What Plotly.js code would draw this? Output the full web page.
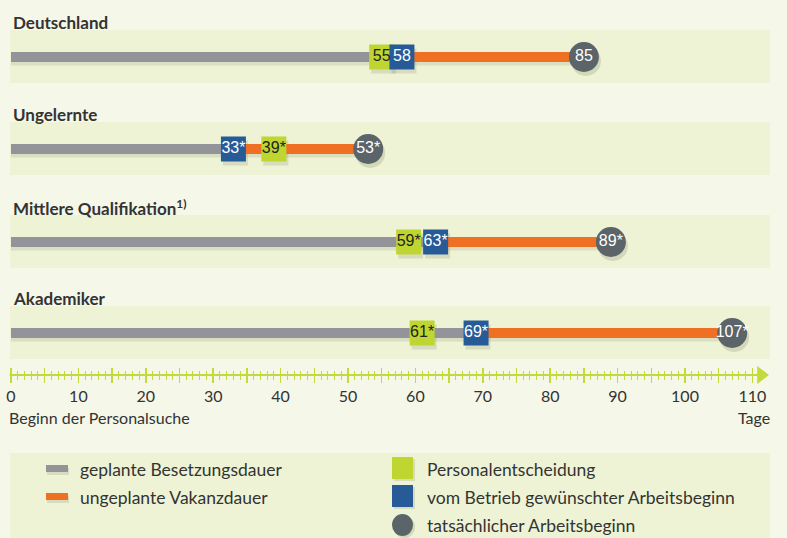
<!DOCTYPE html>
<html><head><meta charset="utf-8">
<script src="https://cdn.plot.ly/plotly-3.0.1.min.js"></script>
<style>html,body{margin:0;padding:0;background:#f5f7e9;}#chart{width:787px;height:538px;}</style>
</head><body><div id="chart"></div>
<script>
// ---- data ----
const categories = ['Deutschland', 'Ungelernte', 'Mittlere Qualifikation<sup>1)</sup>', 'Akademiker'];
const decision = [55, 39, 59, 61];          // Personalentscheidung
const desiredStart = [58, 33, 63, 69];      // vom Betrieb gewünschter Arbeitsbeginn
const actualStart = [85, 53, 89, 107];      // tatsächlicher Arbeitsbeginn
const decisionLabels = ['55', '39*', '59*', '61*'];
const desiredLabels = ['58', '33*', '63*', '69*'];
const actualLabels = ['85', '53*', '89*', '107*'];
const labelledTicks = [0, 10, 20, 30, 40, 50, 60, 70, 80, 90, 100, 110];
const tickLabels = ['0', '10', '20', '30', '40', '50', '60', '70', '80', '90', '100', '110'];
const halfTicks = [5, 15, 25, 35, 45, 55, 65, 75, 85, 95, 105];
const legendLabels = ['geplante Besetzungsdauer', 'ungeplante Vakanzdauer', 'Personalentscheidung', 'vom Betrieb gewünschter Arbeitsbeginn', 'tatsächlicher Arbeitsbeginn'];
const axisStartLabel = 'Beginn der Personalsuche';
const axisUnitLabel = 'Tage';

// ---- layout constants ----
const W = 787, H = 538;
const PX0 = 11, PXPU = 6.74;              // pixel of value 0, pixels per day
const ROW_Y = [57, 149, 242, 333];        // row centre (pixels from top)
const AXIS_Y = 375;
const C = {gray:'#939499', orange:'#f07023', green:'#bed62f', blue:'#275b97', circle:'#5b6469',
           band:'#eef3d5', bg:'#f5f7e9', lime:'#c3da3a', text:'#333333'};
const FONT = 'Lato, "Open Sans", sans-serif';
const NUMFONT = '"Liberation Sans", Arial, sans-serif';

const xr = [-PX0 / PXPU, (W - PX0) / PXPU];
const toPaperX = px => px / W;
const axisPos = (H - AXIS_Y) / H;

const traces = [];
const shapes = [];
const annotations = [];

// bands + headings
ROW_Y.forEach((y, i) => {
  shapes.push({type:'rect', xref:'paper', yref:'y', x0:toPaperX(10), x1:toPaperX(770), y0:y-27, y1:y+26,
               fillcolor:C.band, line:{width:0}, layer:'below'});
  annotations.push({xref:'paper', yref:'y', x:toPaperX(11), y:y-35, xanchor:'left', yanchor:'middle',
                    text:'<b>'+categories[i]+'</b>', showarrow:false, font:{family:FONT, size:17, color:C.text}});
});

// shadows
const shY = 4, shX = 2 / PXPU;
categories.forEach((c, i) => {
  traces.push({x:[0, actualStart[i]], y:[ROW_Y[i]+shY, ROW_Y[i]+shY], mode:'lines', xaxis:'x', yaxis:'y',
               line:{color:'rgba(90,95,60,0.13)', width:9}, hoverinfo:'skip', showlegend:false});
});
traces.push({x:decision.concat(desiredStart).map(v=>v+shX), y:ROW_Y.concat(ROW_Y).map(y=>y+shY), mode:'markers',
             marker:{symbol:'square', size:25, color:'rgba(90,95,60,0.15)'}, hoverinfo:'skip', showlegend:false});
traces.push({x:actualStart.map(v=>v+shX), y:ROW_Y.map(y=>y+shY), mode:'markers',
             marker:{symbol:'circle', size:30, color:'rgba(90,95,60,0.18)'}, hoverinfo:'skip', showlegend:false});

// gray (planned) and orange (unplanned) segments
categories.forEach((c, i) => {
  traces.push({x:[0, desiredStart[i]], y:[ROW_Y[i], ROW_Y[i]], mode:'lines',
               line:{color:C.gray, width:10}, hoverinfo:'skip', showlegend:false});
  traces.push({x:[desiredStart[i], actualStart[i]], y:[ROW_Y[i], ROW_Y[i]], mode:'lines',
               line:{color:C.orange, width:10}, hoverinfo:'skip', showlegend:false});
});

// markers
traces.push({x:decision, y:ROW_Y, mode:'markers', marker:{symbol:'square', size:25, color:C.green}, hoverinfo:'skip', showlegend:false});
traces.push({x:desiredStart, y:ROW_Y, mode:'markers', marker:{symbol:'square', size:25, color:C.blue}, hoverinfo:'skip', showlegend:false});
traces.push({x:actualStart, y:ROW_Y, mode:'markers', marker:{symbol:'circle', size:30, color:C.circle}, hoverinfo:'skip', showlegend:false});
// labels
traces.push({x:decision, y:ROW_Y, mode:'text', text:decisionLabels, textposition:'middle center',
             textfont:{family:NUMFONT, size:16, color:'#222222'}, hoverinfo:'skip', showlegend:false, cliponaxis:false});
traces.push({x:desiredStart, y:ROW_Y, mode:'text', text:desiredLabels, textposition:'middle center',
             textfont:{family:NUMFONT, size:16, color:'#ffffff'}, hoverinfo:'skip', showlegend:false, cliponaxis:false});
traces.push({x:actualStart, y:ROW_Y, mode:'text', text:actualLabels, textposition:'middle center',
             textfont:{family:NUMFONT, size:16, color:'#ffffff'}, hoverinfo:'skip', showlegend:false, cliponaxis:false});

// axis line + arrow head
const lastTick = labelledTicks[labelledTicks.length - 1];
traces.push({x:[-0.2, lastTick + 1.5], y:[AXIS_Y, AXIS_Y], mode:'lines', xaxis:'x2', yaxis:'y',
             line:{color:C.lime, width:2}, hoverinfo:'skip', showlegend:false});
traces.push({x:[lastTick + 1.3], y:[AXIS_Y], mode:'markers', xaxis:'x3', yaxis:'y',
             marker:{symbol:'triangle-right', size:15, color:C.lime}, hoverinfo:'skip', showlegend:false, cliponaxis:false});
traces.push({x:[lastTick + 1.3], y:[AXIS_Y], mode:'markers', xaxis:'x4', yaxis:'y',
             marker:{symbol:'triangle-right', size:15, color:C.lime}, hoverinfo:'skip', showlegend:false, cliponaxis:false});

// axis labels
annotations.push({xref:'paper', yref:'y', x:toPaperX(7), y:417, xanchor:'left', yanchor:'middle', text:axisStartLabel,
                  showarrow:false, font:{family:FONT, size:16, color:C.text}});
annotations.push({xref:'paper', yref:'y', x:toPaperX(772), y:417, xanchor:'right', yanchor:'middle', text:axisUnitLabel,
                  showarrow:false, font:{family:FONT, size:16, color:C.text}});

// legend (drawn manually)
shapes.push({type:'rect', xref:'paper', yref:'y', x0:toPaperX(10), x1:toPaperX(770), y0:453, y1:540,
             fillcolor:C.band, line:{width:0}, layer:'below'});
const legCol1 = 46, legCol2 = 392;
const legRowY = [469, 497, 525];
shapes.push({type:'rect', xref:'paper', yref:'y', x0:toPaperX(legCol1+1), x1:toPaperX(legCol1+23), y0:legRowY[0]-1, y1:legRowY[0]+6, fillcolor:'rgba(90,95,60,0.15)', line:{width:0}});
shapes.push({type:'rect', xref:'paper', yref:'y', x0:toPaperX(legCol1+1), x1:toPaperX(legCol1+23), y0:legRowY[1]-1, y1:legRowY[1]+6, fillcolor:'rgba(90,95,60,0.15)', line:{width:0}});
shapes.push({type:'rect', xref:'paper', yref:'y', x0:toPaperX(legCol1), x1:toPaperX(legCol1+22), y0:legRowY[0]-4, y1:legRowY[0]+3, fillcolor:C.gray, line:{width:0}});
shapes.push({type:'rect', xref:'paper', yref:'y', x0:toPaperX(legCol1), x1:toPaperX(legCol1+22), y0:legRowY[1]-4, y1:legRowY[1]+3, fillcolor:C.orange, line:{width:0}});
shapes.push({type:'rect', xref:'paper', yref:'y', x0:toPaperX(legCol2+2), x1:toPaperX(legCol2+23), y0:legRowY[0]-10, y1:legRowY[0]+12, fillcolor:'rgba(90,95,60,0.15)', line:{width:0}});
shapes.push({type:'rect', xref:'paper', yref:'y', x0:toPaperX(legCol2+2), x1:toPaperX(legCol2+23), y0:legRowY[1]-10, y1:legRowY[1]+12, fillcolor:'rgba(90,95,60,0.15)', line:{width:0}});
shapes.push({type:'circle', xref:'paper', yref:'y', x0:toPaperX(legCol2+2), x1:toPaperX(legCol2+23), y0:legRowY[2]-9, y1:legRowY[2]+13, fillcolor:'rgba(90,95,60,0.18)', line:{width:0}});
shapes.push({type:'rect', xref:'paper', yref:'y', x0:toPaperX(legCol2), x1:toPaperX(legCol2+21), y0:legRowY[0]-12, y1:legRowY[0]+10, fillcolor:C.green, line:{width:0}});
shapes.push({type:'rect', xref:'paper', yref:'y', x0:toPaperX(legCol2), x1:toPaperX(legCol2+21), y0:legRowY[1]-12, y1:legRowY[1]+10, fillcolor:C.blue, line:{width:0}});
shapes.push({type:'circle', xref:'paper', yref:'y', x0:toPaperX(legCol2), x1:toPaperX(legCol2+21), y0:legRowY[2]-11, y1:legRowY[2]+11, fillcolor:C.circle, line:{width:0}});
const legPos = [[78, legRowY[0]], [78, legRowY[1]], [425, legRowY[0]], [425, legRowY[1]], [425, legRowY[2]]];
legendLabels.forEach((t, i) => {
  annotations.push({xref:'paper', yref:'y', x:toPaperX(legPos[i][0]), y:legPos[i][1], xanchor:'left', yanchor:'middle',
                    text:t, showarrow:false, font:{family:FONT, size:17.5, color:C.text}});
});

const minorVals = [];
for (let i = labelledTicks[0]; i <= lastTick; i++) minorVals.push(i);
const tickAxisBase = {
  range: xr, autorange:false, overlaying:'x', anchor:'free', position: axisPos, side:'bottom',
  tickmode:'array', showgrid:false, zeroline:false, showline:false,
  tickcolor:C.lime, tickwidth:1.5, fixedrange:true
};

const layout = {
  width: W, height: H,
  margin: {l:0, r:0, t:0, b:0, pad:0},
  paper_bgcolor: C.bg, plot_bgcolor: 'rgba(0,0,0,0)',
  showlegend: false,
  xaxis: {range: xr, autorange:false, visible:false, fixedrange:true},
  xaxis2: Object.assign({}, tickAxisBase, {tickvals: labelledTicks, ticktext: tickLabels, ticks:'outside', ticklen:7,
      tickfont:{family:FONT, size:16, color:C.text},
      minor:{tickmode:'array', tickvals:minorVals, ticks:'outside', ticklen:4, tickwidth:1, tickcolor:C.lime}}),
  xaxis3: Object.assign({}, tickAxisBase, {tickvals: labelledTicks.concat(halfTicks), ticks:'inside', ticklen:7, showticklabels:false,
      minor:{tickmode:'array', tickvals:minorVals, ticks:'inside', ticklen:4, tickwidth:1, tickcolor:C.lime}}),
  xaxis4: Object.assign({}, tickAxisBase, {tickvals: halfTicks, ticks:'outside', ticklen:7, showticklabels:false}),
  yaxis: {range:[H, 0], autorange:false, visible:false, fixedrange:true},
  shapes: shapes,
  annotations: annotations
};

Plotly.newPlot('chart', traces, layout, {displayModeBar:false, staticPlot:true});
</script>
</body></html>
